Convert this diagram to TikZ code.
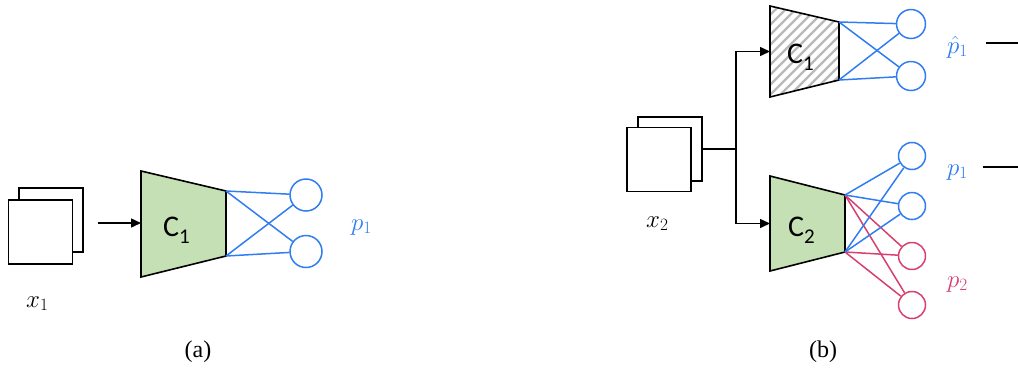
\documentclass[tikz,border=0pt]{standalone}
\usepackage{fontspec}
\setmainfont{Liberation Serif}
\newfontfamily\carlito{Carlito}
\usetikzlibrary{arrows.meta}
\definecolor{nnblue}{RGB}{47,125,240}
\definecolor{nnpink}{RGB}{214,64,110}
\definecolor{nngreen}{RGB}{197,224,180}
\definecolor{hatchgray}{RGB}{185,185,185}
\newcommand{\clab}[1]{{\carlito\fontsize{30}{30}\selectfont C\raisebox{-7pt}{\fontsize{21}{21}\selectfont #1}}}
\begin{document}
\begin{tikzpicture}[x=1pt,y=-1pt,
  sheet/.style={draw=black,line width=1.5pt,fill=white,minimum width=64pt,minimum height=64pt,inner sep=0pt},
  wire/.style={line width=1.5pt},
  arr/.style={line width=1.5pt,-{Triangle[length=10pt,width=9pt]}},
  trap/.style={draw=black,line width=1.6pt,line join=miter},
  neuron/.style={circle,draw,line width=1.5pt,inner sep=0pt,fill=white},
  blu/.style={draw=nnblue,line width=1.5pt},
  pnk/.style={draw=nnpink,line width=1.5pt},
  mlab/.style={anchor=base west,inner sep=0pt,font=\fontsize{24}{24}\selectfont},
  subcap/.style={anchor=base,inner sep=0pt,font=\fontsize{24}{24}\selectfont}]
\useasboundingbox (0,0) rectangle (1018,368);

% ---------------- panel (a) ----------------
\node[sheet] (a-back) at (51,220) {};
\node[sheet] (a-front) at (40.5,232) {};
\coordinate (a-tl) at (141,171);
\coordinate (a-bl) at (141,277);
\coordinate (a-tr) at (226,191);
\coordinate (a-br) at (226,256);
\coordinate (a-in) at (141,223);
\coordinate (a-src) at (98,223);
\draw[arr] (a-src) -- (a-in);
\draw[trap,fill=nngreen] (a-tl) -- (a-tr) -- (a-br) -- (a-bl) -- cycle;
\node[anchor=base west,inner sep=0pt] (a-C) at (163,236) {\clab{1}};
\node[neuron,draw=nnblue,minimum size=32pt] (a-n1) at (306,195) {};
\node[neuron,draw=nnblue,minimum size=32pt] (a-n2) at (306,251.5) {};
\draw[blu] (a-tr) -- (a-n1);
\draw[blu] (a-tr) -- (a-n2);
\draw[blu] (a-br) -- (a-n1);
\draw[blu] (a-br) -- (a-n2);
\node[mlab,text=nnblue] (a-p1) at (351,230) {$p_1$};
\node[mlab] (a-x1) at (26,307) {$x_1$};
\node[subcap] (a-cap) at (198,357) {(a)};

% ---------------- panel (b) ----------------
\node[sheet] (b-back) at (670,149) {};
\node[sheet] (b-front) at (659,159.5) {};
\coordinate (b-j) at (736,149);
% top (frozen) classifier
\coordinate (t-tl) at (770,6);
\coordinate (t-bl) at (770,97);
\coordinate (t-tr) at (839,22);
\coordinate (t-br) at (839,80);
\coordinate (t-in) at (770,51.5);
% bottom classifier
\coordinate (u-tl) at (770,176);
\coordinate (u-bl) at (770,271);
\coordinate (u-tr) at (845,195);
\coordinate (u-br) at (845,252);
\coordinate (u-in) at (770,223.5);

\draw[wire] (b-back.east |- b-j) -- (b-j);
\draw[arr] (b-j) |- (t-in);
\draw[arr] (b-j) |- (u-in);

\begin{scope}
  \clip (t-tl) -- (t-tr) -- (t-br) -- (t-bl) -- cycle;
  \fill[white] (t-tl) -- (t-tr) -- (t-br) -- (t-bl) -- cycle;
  \foreach \i in {-120,-110,...,80} {
    \draw[hatchgray,line width=2.2pt] (770+\i,105) -- ++(110,-110);
  }
\end{scope}
\draw[trap] (t-tl) -- (t-tr) -- (t-br) -- (t-bl) -- cycle;
\node[anchor=base west,inner sep=0pt] (t-C) at (787,63) {\clab{1}};

\draw[trap,fill=nngreen] (u-tl) -- (u-tr) -- (u-br) -- (u-bl) -- cycle;
\node[anchor=base west,inner sep=0pt] (u-C) at (788,236) {\clab{2}};

% top neurons
\node[neuron,draw=nnblue,minimum size=29pt] (t-n1) at (911,24) {};
\node[neuron,draw=nnblue,minimum size=29pt] (t-n2) at (911,76) {};
\draw[blu] (t-tr) -- (t-n1);
\draw[blu] (t-tr) -- (t-n2);
\draw[blu] (t-br) -- (t-n1);
\draw[blu] (t-br) -- (t-n2);

% bottom neurons
\node[neuron,draw=nnblue,minimum size=27pt] (u-n1) at (912,156) {};
\node[neuron,draw=nnblue,minimum size=27pt] (u-n2) at (912,206) {};
\node[neuron,draw=nnpink,minimum size=27pt] (u-n3) at (912,256) {};
\node[neuron,draw=nnpink,minimum size=27pt] (u-n4) at (912,305) {};
\draw[pnk] (u-tr) -- (u-n3);
\draw[pnk] (u-tr) -- (u-n4);
\draw[pnk] (u-br) -- (u-n3);
\draw[pnk] (u-br) -- (u-n4);
\draw[blu] (u-tr) -- (u-n1);
\draw[blu] (u-tr) -- (u-n2);
\draw[blu] (u-br) -- (u-n1);
\draw[blu] (u-br) -- (u-n2);

\node[mlab,text=nnblue] (b-ph) at (947,53) {$\hat{p}_1$};
\node[mlab,text=nnblue] (b-p1) at (947,175) {$p_1$};
\node[mlab,text=nnpink] (b-p2) at (947,287) {$p_2$};
\node[mlab] (b-x2) at (646,227) {$x_2$};
\node[subcap] (b-cap) at (823,357) {(b)};

\coordinate (r1s) at (986,43);
\coordinate (r1e) at (1018,43);
\coordinate (r2s) at (983,167);
\coordinate (r2e) at (1018,167);
\draw[wire] (r1s) -- (r1e);
\draw[wire] (r2s) -- (r2e);
\end{tikzpicture}
\end{document}
